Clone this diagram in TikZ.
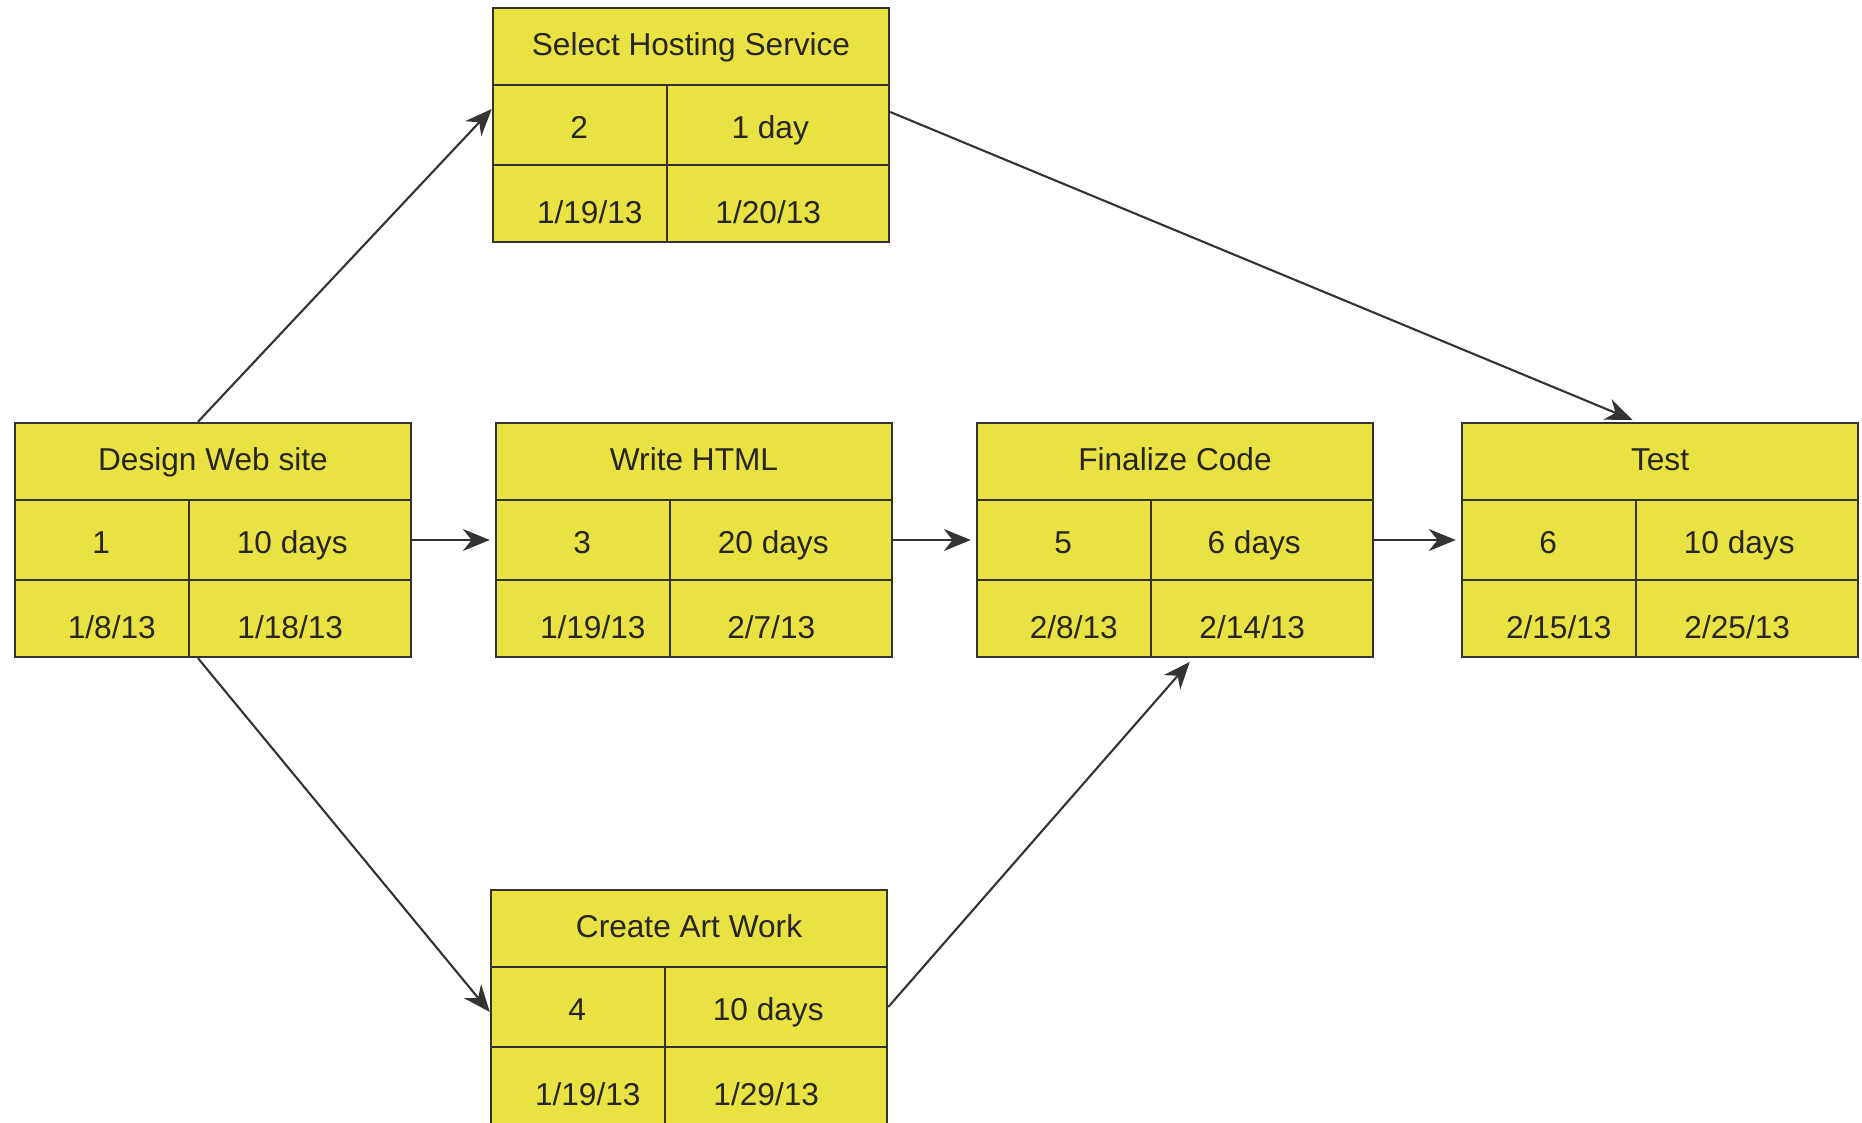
\documentclass[tikz,border=0pt]{standalone}
\usepackage{fontspec}
\setmainfont{Liberation Sans}
\usepackage{xcolor}
\usepackage{tikz}
\usetikzlibrary{arrows.meta,positioning}

\definecolor{actyellow}{RGB}{234,226,66}
\definecolor{actline}{RGB}{52,50,44}

% one activity box: name, x, y, title, number, duration, start, finish
\newcommand{\activity}[8]{%
  \node[actbox] (#1) at (#2,#3) {};
  \draw[grid] ([yshift=-0.78cm]#1.north west) -- ([yshift=-0.78cm]#1.north east);
  \draw[grid] ([yshift=0.78cm]#1.south west) -- ([yshift=0.78cm]#1.south east);
  \draw[grid] ([xshift=1.75cm,yshift=-0.78cm]#1.north west) -- ([xshift=1.75cm]#1.south west);
  \node[celltext] (#1-title) at ([yshift=-0.36cm]#1.north) {#4};
  \node[celltext] (#1-num)   at ([xshift=0.875cm,yshift=-0.01cm]#1.west) {#5};
  \node[celltext] (#1-dur)   at ([xshift=-1.2cm,yshift=-0.01cm]#1.east) {#6};
  \node[celltext] (#1-start) at ([xshift=0.98cm,yshift=0.32cm]#1.south west) {#7};
  \node[celltext] (#1-end)   at ([xshift=-1.22cm,yshift=0.32cm]#1.south east) {#8};
}

\begin{document}
\begin{tikzpicture}[
  actbox/.style={draw=actline, fill=actyellow, line width=0.7pt,
                 minimum width=3.96cm, minimum height=2.34cm, inner sep=0pt},
  grid/.style={draw=actline, line width=0.7pt},
  celltext/.style={inner sep=0pt, text height=0.72em, text depth=0pt,
                   font=\fontsize{9}{11}\selectfont, text=black!85},
  arr/.style={-{Stealth[length=0.27cm,width=0.22cm]}, line width=0.6pt,
              draw=black!80, shorten >=0.05cm}
]
\useasboundingbox (0,0) rectangle (18.62,11.22);

\activity{design}{2.13}{5.82}{Design Web site}{1}{10 days}{1/8/13}{1/18/13}
\activity{hosting}{6.91}{9.97}{Select Hosting Service}{2}{1 day}{1/19/13}{1/20/13}
\activity{html}{6.94}{5.82}{Write HTML}{3}{20 days}{1/19/13}{2/7/13}
\activity{art}{6.89}{1.15}{Create Art Work}{4}{10 days}{1/19/13}{1/29/13}
\activity{finalize}{11.75}{5.82}{Finalize Code}{5}{6 days}{2/8/13}{2/14/13}
\activity{test}{16.60}{5.82}{Test}{6}{10 days}{2/15/13}{2/25/13}

\draw[arr, shorten >=0pt] ([xshift=-0.15cm]design.north) -- ([yshift=0.16cm]hosting.west);
\draw[arr] (design.east) -- (html.west);
\draw[arr, shorten >=0pt] ([xshift=-0.15cm]design.south) -- ([yshift=-0.05cm]art.west);
\draw[arr] (html.east) -- (finalize.west);
\draw[arr] ([yshift=0.13cm]hosting.east) -- ([xshift=-0.23cm]test.north);
\draw[arr] (art.east) -- ([xshift=0.18cm]finalize.south);
\draw[arr] (finalize.east) -- (test.west);

\end{tikzpicture}
\end{document}
